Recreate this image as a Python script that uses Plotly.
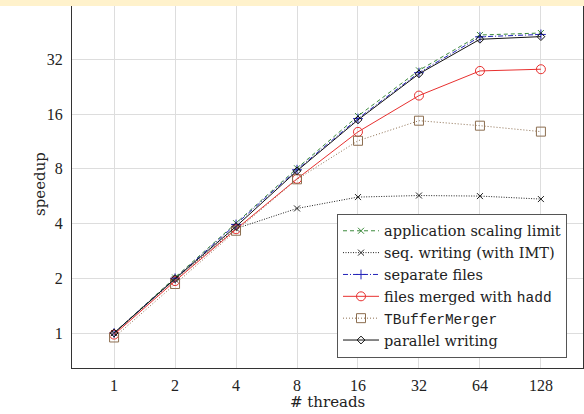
import plotly.graph_objects as go
import math

threads = [1, 2, 4, 8, 16, 32, 64, 128]
app_limit = [1.0, 2.02, 4.02, 8.05, 15.6, 27.8, 43.5, 44.6]
seq_writing = [1.0, 1.97, 3.75, 4.84, 5.59, 5.70, 5.66, 5.45]
separate_files = [1.0, 2.0, 3.95, 7.9, 15.1, 27.0, 42.5, 43.8]
merged_hadd = [0.98, 1.93, 3.72, 7.04, 12.76, 20.2, 27.6, 28.2]
tbuffer_merger = [0.945, 1.86, 3.65, 7.0, 11.4, 14.7, 13.8, 12.8]
parallel_writing = [1.0, 1.99, 3.85, 7.79, 14.85, 26.6, 41.2, 42.6]

x_ticks = [1, 2, 4, 8, 16, 32, 64, 128]
y_ticks = [1, 2, 4, 8, 16, 32]

mono = "<span style=\"font-family:'Liberation Mono'\">%s</span>"

series = [
    ("application scaling limit", app_limit, "#3c8a3c", "4px,3px", "x-thin-open", 6),
    ("seq. writing (with IMT)", seq_writing, "#222222", "1px,1.5px", "x-thin-open", 6),
    ("separate files", separate_files, "#2222b8", "5px,2px,1px,2px", "cross-thin-open", 7),
    ("files merged with " + mono % "hadd", merged_hadd, "#e8302f", "solid", "circle-open", 9),
    (mono % "TBufferMerger", tbuffer_merger, "#8c6e50", "1px,2px", "square-open", 9),
    ("parallel writing", parallel_writing, "#111111", "solid", "diamond-open", 6),
]

fig = go.Figure()
for name, vals, color, dash, sym, size in series:
    fig.add_trace(go.Scatter(
        x=threads, y=vals, name=name, mode="lines+markers",
        line=dict(color=color, width=1, dash=dash),
        marker=dict(symbol=sym, size=size, color=color, line=dict(color=color, width=1)),
    ))

tick_font = "Liberation Serif"
text_font = "DejaVu Serif"
W, H = 584, 414
ml, mr, mt, mb = 72, 1, 0, 46
plot_h = H - mt - mb
fig.update_layout(
    width=W, height=H,
    margin=dict(l=ml, r=mr, t=mt, b=mb),
    paper_bgcolor="white", plot_bgcolor="white",
    font=dict(family=tick_font, size=16, color="#222"),
    showlegend=True,
    legend=dict(x=0.9687, y=0.0276, xanchor="right", yanchor="bottom",
                bordercolor="#555", borderwidth=1, bgcolor="white",
                font=dict(family=text_font, size=14.5, color="#222"), itemwidth=36,
                tracegroupgap=0),
    xaxis=dict(type="log", range=[-0.69 * math.log10(2), 7.69 * math.log10(2)],
               tickvals=x_ticks, ticktext=[str(v) for v in x_ticks],
               showgrid=True, gridcolor="#dddddd", gridwidth=1,
               showline=True, linecolor="#333", linewidth=1, mirror=True,
               ticks="", zeroline=False, automargin=False, ticklabelstandoff=3),
    yaxis=dict(type="log", range=[-0.639 * math.log10(2), 6.082 * math.log10(2)],
               tickvals=y_ticks, ticktext=[str(v) for v in y_ticks],
               showgrid=True, gridcolor="#dddddd", gridwidth=1,
               showline=True, linecolor="#333", linewidth=1, mirror=True,
               ticks="", zeroline=False, automargin=False, ticklabelstandoff=5),
    annotations=[
        dict(text="# threads", xref="paper", yref="paper", x=0.5, y=0,
             xanchor="center", yanchor="middle", yshift=-34, showarrow=False,
             font=dict(family=text_font, size=15, color="#222")),
        dict(text="speedup", xref="paper", yref="paper", x=0, y=0.5,
             xanchor="center", yanchor="middle", xshift=-32, textangle=-90,
             showarrow=False, font=dict(family=text_font, size=15, color="#222")),
    ],
    shapes=[dict(type="rect", xref="paper", yref="paper",
                 x0=-0.2, x1=1.05, y0=1.0 - 6 / plot_h, y1=1.01,
                 fillcolor="#fff2cc", line=dict(width=0), layer="above")],
)

fig.write_html("out.html", config={"displayModeBar": False},
               post_script="document.body.style.margin='0';")
